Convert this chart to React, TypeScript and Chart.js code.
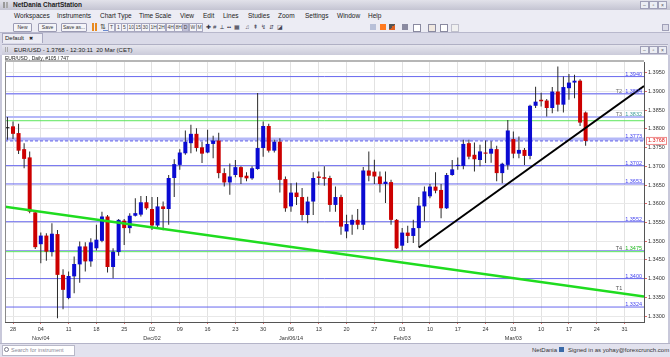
import React, { useEffect, useRef } from "react";
import { Chart, registerables } from "chart.js";

Chart.register(...registerables);

const FONT = "'Liberation Sans', Arial, sans-serif";

// ---- data: EUR/USD daily candles, index 0 = Mon 28 Oct 2013 (weekdays only) ----
const firstBarIndex = -1;
const opens = [
  1.3802, 1.3807, 1.3789, 1.3746, 1.3724, 1.3577, 1.3492, 1.3515, 1.3471, 1.3519,
  1.3410, 1.3348, 1.3406, 1.3438, 1.3486, 1.3446, 1.3481, 1.3501, 1.3566, 1.3431,
  1.3471, 1.3555, 1.3535, 1.3568, 1.3571, 1.3604, 1.3586, 1.3542, 1.3593, 1.3586,
  1.3669, 1.3704, 1.3735, 1.3762, 1.3787, 1.3751, 1.3737, 1.3760, 1.3769, 1.3682,
  1.3657, 1.3677, 1.3698, 1.3675, 1.3668, 1.3693, 1.3749, 1.3808, 1.3742, 1.3766,
  1.3666, 1.3593, 1.3630, 1.3618, 1.3570, 1.3606, 1.3673, 1.3671, 1.3669, 1.3597,
  1.3618, 1.3526, 1.3544, 1.3557, 1.3544, 1.3689, 1.3686, 1.3673, 1.3653, 1.3658,
  1.3557, 1.3488, 1.3523, 1.3514, 1.3535, 1.3593, 1.3620, 1.3646, 1.3637, 1.3588,
  1.3677, 1.3701, 1.3701, 1.3762, 1.3731, 1.3717, 1.3737, 1.3734, 1.3746, 1.3682,
  1.3704, 1.3773, 1.3734, 1.3744, 1.3728, 1.3862, 1.3878, 1.3876, 1.3856, 1.3900,
  1.3865, 1.3909, 1.3924, 1.3929, 1.3844,
];
const highs = [
  1.3832, 1.3820, 1.3814, 1.3762, 1.3740, 1.3579, 1.3523, 1.3521, 1.3548, 1.3530,
  1.3425, 1.3419, 1.3459, 1.3499, 1.3497, 1.3508, 1.3544, 1.3579, 1.3570, 1.3481,
  1.3559, 1.3559, 1.3575, 1.3615, 1.3621, 1.3621, 1.3618, 1.3618, 1.3606, 1.3677,
  1.3719, 1.3746, 1.3796, 1.3811, 1.3802, 1.3766, 1.3798, 1.3782, 1.3790, 1.3695,
  1.3708, 1.3717, 1.3700, 1.3684, 1.3700, 1.3896, 1.3820, 1.3814, 1.3771, 1.3775,
  1.3673, 1.3655, 1.3657, 1.3642, 1.3619, 1.3684, 1.3686, 1.3700, 1.3675, 1.3646,
  1.3624, 1.3571, 1.3571, 1.3586, 1.3698, 1.3740, 1.3718, 1.3686, 1.3686, 1.3664,
  1.3559, 1.3535, 1.3541, 1.3557, 1.3618, 1.3646, 1.3653, 1.3684, 1.3653, 1.3682,
  1.3717, 1.3724, 1.3771, 1.3771, 1.3764, 1.3758, 1.3769, 1.3767, 1.3755, 1.3710,
  1.3824, 1.3793, 1.3780, 1.3749, 1.3865, 1.3913, 1.3897, 1.3880, 1.3912, 1.3967,
  1.3940, 1.3947, 1.3945, 1.3933, 1.3847,
];
const lows = [
  1.3771, 1.3773, 1.3733, 1.3695, 1.3575, 1.3479, 1.3441, 1.3448, 1.3459, 1.3294,
  1.3318, 1.3345, 1.3361, 1.3389, 1.3419, 1.3432, 1.3475, 1.3497, 1.3416, 1.3401,
  1.3461, 1.3490, 1.3521, 1.3566, 1.3566, 1.3584, 1.3530, 1.3535, 1.3529, 1.3544,
  1.3618, 1.3691, 1.3731, 1.3735, 1.3740, 1.3709, 1.3735, 1.3722, 1.3668, 1.3646,
  1.3624, 1.3671, 1.3653, 1.3660, 1.3664, 1.3691, 1.3726, 1.3737, 1.3737, 1.3630,
  1.3579, 1.3579, 1.3597, 1.3555, 1.3548, 1.3570, 1.3651, 1.3648, 1.3579, 1.3579,
  1.3517, 1.3508, 1.3517, 1.3532, 1.3530, 1.3660, 1.3653, 1.3630, 1.3602, 1.3544,
  1.3479, 1.3475, 1.3495, 1.3495, 1.3484, 1.3553, 1.3615, 1.3628, 1.3561, 1.3586,
  1.3675, 1.3691, 1.3692, 1.3719, 1.3686, 1.3700, 1.3709, 1.3710, 1.3660, 1.3655,
  1.3691, 1.3722, 1.3722, 1.3704, 1.3719, 1.3856, 1.3860, 1.3833, 1.3842, 1.3847,
  1.3844, 1.3878, 1.3882, 1.3808, 1.3755,
];
const closes = [
  1.3802, 1.3787, 1.3742, 1.3720, 1.3579, 1.3484, 1.3515, 1.3472, 1.3520, 1.3410,
  1.3370, 1.3407, 1.3439, 1.3486, 1.3446, 1.3497, 1.3504, 1.3566, 1.3431, 1.3472,
  1.3557, 1.3535, 1.3568, 1.3575, 1.3604, 1.3588, 1.3542, 1.3593, 1.3586, 1.3669,
  1.3706, 1.3737, 1.3766, 1.3787, 1.3749, 1.3734, 1.3760, 1.3769, 1.3682, 1.3657,
  1.3673, 1.3698, 1.3671, 1.3668, 1.3695, 1.3749, 1.3808, 1.3742, 1.3766, 1.3664,
  1.3588, 1.3630, 1.3618, 1.3570, 1.3606, 1.3669, 1.3669, 1.3667, 1.3597, 1.3618,
  1.3539, 1.3546, 1.3557, 1.3544, 1.3689, 1.3675, 1.3673, 1.3653, 1.3659, 1.3557,
  1.3481, 1.3523, 1.3514, 1.3535, 1.3595, 1.3633, 1.3646, 1.3635, 1.3588, 1.3677,
  1.3692, 1.3704, 1.3760, 1.3726, 1.3719, 1.3740, 1.3734, 1.3747, 1.3682, 1.3707,
  1.3796, 1.3734, 1.3744, 1.3728, 1.3862, 1.3873, 1.3874, 1.3856, 1.3900, 1.3865,
  1.3912, 1.3924, 1.3929, 1.3817, 1.3768,
];

// week ticks (Mondays)
const weekTickIndex = [0, 5, 10, 15, 20, 25, 30, 35, 40, 45, 50, 55, 60, 65, 70, 75, 80, 85, 90, 95, 100, 105, 110];
const weekDayLabels = ["28", "04", "11", "18", "25", "02", "09", "16", "23", "30", "06", "13", "20", "27", "03", "10", "17", "24", "03", "10", "17", "24", "31"];
const monthLabels = ["", "Nov/04", "", "", "", "Dec/02", "", "", "", "", "Jan/06/14", "", "", "", "Feb/03", "", "", "", "Mar/03", "", "", "", ""];
const yTicks = [1.33, 1.335, 1.34, 1.345, 1.35, 1.355, 1.36, 1.365, 1.37, 1.375, 1.38, 1.385, 1.39, 1.395];

const X_MIN = -1.44;
const X_MAX = 113.5;
const Y_MIN = 1.3284;
const Y_MAX = 1.3979;

// support / resistance levels
const levelValues = [1.394, 1.3894, 1.3832, 1.3773, 1.3702, 1.3653, 1.3552, 1.3475, 1.34, 1.3324];
const levelTags = ["", "T2", "T3", "", "", "", "", "T4", "", ""];
const levelColors = ["#6868ee", "#8c8cf2", "#b4b8f8", "#b4b8f8", "#6868ee", "#6868ee", "#6868ee", "#9a9af0", "#6868ee", "#6868ee"];
const levelWidths = [1, 1.5, 2, 3, 1, 1, 1, 1, 1, 1];
const levelLabelColors = ["#4646f0", "#4646f0", "#3c9c9c", "#4646f0", "#4646f0", "#4646f0", "#4646f0", "#22b822", "#4646f0", "#4646f0"];
const greenLevels = [1.3822, 1.3472];
const currentPrice = 1.3768;

// trend lines (data space)
const greenTrendX = [-1.44, 113.5];
const greenTrendY = [1.3592, 1.3352];
const blackTrendX = [73, 113.5];
const blackTrendY = [1.3483, 1.3915];
const t1LabelX = 109;

const UP = "#0a0ad2";
const DOWN = "#cc0000";

const overlayPlugin = {
  id: "overlay",
  afterDraw(chart: any) {
    const { ctx, chartArea: a, scales } = chart;
    const y = scales.y;
    const x = scales.x;
    ctx.save();
    ctx.strokeStyle = "#b6b6b6";
    ctx.lineWidth = 2;
    ctx.beginPath();
    ctx.moveTo(a.left, a.top - 1);
    ctx.lineTo(a.right, a.top - 1);
    ctx.stroke();
    ctx.strokeStyle = "#8a8a8a";
    ctx.lineWidth = 1;
    ctx.beginPath();
    ctx.moveTo(a.left + 0.5, a.top);
    ctx.lineTo(a.left + 0.5, a.bottom);
    ctx.stroke();

    ctx.font = `5.5px ${FONT}`;
    ctx.textBaseline = "alphabetic";
    levelValues.forEach((v, k) => {
      const py = y.getPixelForValue(v);
      const txt = v.toFixed(4);
      ctx.textAlign = "right";
      ctx.fillStyle = levelLabelColors[k];
      ctx.fillText(txt, a.right - 2, py - 1);
      if (levelTags[k]) {
        const w = ctx.measureText(txt).width;
        ctx.fillStyle = k === 7 ? "#555" : "#707070";
        ctx.fillText(levelTags[k], a.right - 2 - w - 3, py - 1);
      }
    });
    // T1 label above green trend
    const frac = (t1LabelX - greenTrendX[0]) / (greenTrendX[1] - greenTrendX[0]);
    const gy = greenTrendY[0] + frac * (greenTrendY[1] - greenTrendY[0]);
    ctx.textAlign = "center";
    ctx.fillStyle = "#555";
    ctx.fillText("T1", x.getPixelForValue(t1LabelX), y.getPixelForValue(gy) - 3);

    // current price box
    const cy = y.getPixelForValue(currentPrice);
    ctx.fillStyle = "#fff";
    ctx.fillRect(a.right + 2, cy - 4, 21, 7);
    ctx.strokeStyle = "#f08a8a";
    ctx.lineWidth = 1;
    ctx.strokeRect(a.right + 2.5, cy - 3.5, 20, 7);
    ctx.fillStyle = "#e01818";
    ctx.textAlign = "left";
    ctx.textBaseline = "middle";
    ctx.fillText(currentPrice.toFixed(4), a.right + 4, cy);
    ctx.restore();
  },
};

function ChartCanvas() {
  const ref = useRef<HTMLCanvasElement>(null);
  useEffect(() => {
    const canvas = ref.current!;
    const xs = opens.map((_, k) => k + firstBarIndex);
    const wickData = xs.map((xv, k) => ({ x: xv, y: [lows[k], highs[k]] }));
    const bodyData = xs.map((xv, k) => ({ x: xv, y: [opens[k], closes[k]] }));
    const bodyColors = xs.map((_, k) => (closes[k] > opens[k] ? UP : closes[k] < opens[k] ? DOWN : "#111"));

    const levelSets: any[] = levelValues.map((v, k) => ({
      type: "line",
      data: [{ x: X_MIN, y: v }, { x: X_MAX, y: v }],
      borderColor: levelColors[k],
      borderWidth: levelWidths[k],
      pointRadius: 0,
      fill: false,
      order: 6,
    }));
    const greenSets: any[] = greenLevels.map((v) => ({
      type: "line",
      data: [{ x: X_MIN, y: v }, { x: X_MAX, y: v }],
      borderColor: "#5ce65c",
      borderWidth: 1,
      pointRadius: 0,
      fill: false,
      order: 5,
    }));

    const chart = new Chart(canvas, {
      type: "bar",
      data: {
        datasets: [
          ...levelSets,
          ...greenSets,
          {
            type: "line",
            data: [{ x: X_MIN, y: currentPrice }, { x: X_MAX, y: currentPrice }],
            borderColor: "#5656e8",
            borderWidth: 1,
            borderDash: [3, 2],
            pointRadius: 0,
            fill: false,
            order: 4,
          },
          {
            type: "bar",
            data: wickData,
            backgroundColor: "#2a2a2a",
            maxBarThickness: 1,
            grouped: false,
            order: 3,
          },
          {
            type: "bar",
            data: bodyData,
            backgroundColor: bodyColors,
            maxBarThickness: 4,
            minBarLength: 1,
            grouped: false,
            order: 2,
          },
          {
            type: "line",
            data: greenTrendX.map((xv, k) => ({ x: xv, y: greenTrendY[k] })),
            borderColor: "#1fdc1f",
            borderWidth: 2.5,
            pointRadius: 0,
            fill: false,
            order: 1,
          },
          {
            type: "line",
            data: blackTrendX.map((xv, k) => ({ x: xv, y: blackTrendY[k] })),
            borderColor: "#000",
            borderWidth: 2,
            pointRadius: 0,
            fill: false,
            order: 0,
          },
        ] as any,
      },
      options: {
        animation: false,
        responsive: false,
        devicePixelRatio: 1,
        layout: { padding: { left: 5, top: 7, right: 0, bottom: 0 } },
        plugins: { legend: { display: false }, tooltip: { enabled: false } },
        scales: {
          x: {
            type: "linear",
            min: X_MIN,
            max: X_MAX,
            offset: false,
            afterBuildTicks: (s: any) => {
              s.ticks = weekTickIndex.map((v) => ({ value: v }));
            },
            afterFit: (s: any) => {
              s.height = 22;
            },
            ticks: {
              autoSkip: false,
              maxRotation: 0,
              padding: 1,
              color: "#333",
              font: { size: 5.5, family: FONT, lineHeight: 1.6 },
              callback: (v: any) => {
                const w = weekTickIndex.indexOf(Number(v));
                if (w < 0) return "";
                return monthLabels[w] ? [weekDayLabels[w], monthLabels[w]] : weekDayLabels[w];
              },
            },
            grid: { offset: false, color: "#e2e2e2", tickColor: "#e06a6a", tickLength: 2 },
            border: { color: "#555", width: 1 },
          },
          y: {
            type: "linear",
            position: "right",
            min: Y_MIN,
            max: Y_MAX,
            afterBuildTicks: (s: any) => {
              s.ticks = yTicks.map((v) => ({ value: v }));
            },
            afterFit: (s: any) => {
              s.width = 26;
            },
            ticks: {
              padding: 1,
              color: "#333",
              font: { size: 5.5, family: FONT },
              callback: (v: any) => Number(v).toFixed(4),
            },
            grid: { color: "#e8e8e8", tickColor: "#e06a6a", tickLength: 3 },
            border: { color: "#555", width: 1 },
          },
        },
      } as any,
      plugins: [overlayPlugin],
    });
    return () => chart.destroy();
  }, []);
  return <canvas ref={ref} width={670} height={289} style={{ position: "absolute", left: 0, top: 55, width: 670, height: 289 }} />;
}

const abs = (left: number, top: number, extra: any = {}) => ({ position: "absolute" as const, left, top, ...extra });

const menuItems = ["Workspaces", "Instruments", "Chart Type", "Time Scale", "View", "Edit", "Lines", "Studies", "Zoom", "Settings", "Window", "Help"];
const menuX = [14, 57, 100, 139, 180, 203, 223, 248, 278, 305, 337, 368];
const tfLabels = ["T", "1", "5", "10", "15", "30", "1H", "2H", "4H", "8H", "D", "W", "M"];
const tfX = [108, 115, 121, 127, 134, 141, 149, 157, 166, 174, 182, 189, 196];

function WinButtons({ top }: { top: number }) {
  return (
    <>
      {["–", "▫", "×"].map((c, k) => (
        <div key={k} style={abs(640 + k * 9, top, { width: 7, height: 6, border: "1px solid #a0a0b8", background: "#eceef4", fontSize: 5, lineHeight: "6px", textAlign: "center", color: "#555" })}>{c}</div>
      ))}
    </>
  );
}

function SmallBtn({ x, w, text, active }: { x: number; w: number; text: string; active?: boolean }) {
  return (
    <div style={abs(x, 23, { width: w, height: 7, border: "1px solid #9c9cb4", background: active ? "#c8c8dc" : "#f4f4f8", fontSize: 5, lineHeight: "7px", textAlign: "center", color: "#333", borderRadius: 1 })}>{text}</div>
  );
}

export default function App() {
  return (
    <div style={{ position: "fixed", left: 0, top: 0, width: 670, height: 357, overflow: "hidden", background: "#d6d6e6", fontFamily: FONT, color: "#222" }}>
      {/* title bar */}
      <div style={abs(0, 0, { width: 670, height: 10, background: "linear-gradient(#e2e2ea,#c4c4d2)" })} />
      <div style={abs(3, 2, { width: 7, height: 6, background: "linear-gradient(90deg,#999 0 2px,transparent 2px 3px,#aaa 3px 5px,transparent 5px)" })} />
      <div style={abs(13, 0, { fontSize: 6.5, lineHeight: "10px", fontWeight: "bold", color: "#222" })}>NetDania ChartStation</div>
      <WinButtons top={1} />
      {/* menu bar */}
      <div style={abs(0, 10, { width: 670, height: 22, background: "#ececf4" })} />
      {menuItems.map((m, k) => (
        <div key={m} style={abs(menuX[k], 11, { fontSize: 6.5, lineHeight: "9px", color: "#222", whiteSpace: "nowrap" })}>{m}</div>
      ))}
      {/* toolbar */}
      <SmallBtn x={13} w={17} text="New" />
      <SmallBtn x={38} w={17} text="Save" />
      <SmallBtn x={61} w={24} text="Save as..." />
      <div style={abs(92, 23, { width: 2, height: 8, background: "#e88a20" })} />
      <div style={abs(95, 23, { width: 2, height: 8, background: "#e88a20" })} />
      <div style={abs(100, 23, { fontSize: 7, lineHeight: "8px", color: "#333" })}>⇅</div>
      <div style={abs(103, 23, { width: 5, height: 7, borderBottom: "1px solid #6a8ad0" })} />
      {tfLabels.map((t, k) => (
        <div key={k} style={abs(tfX[k], 23, { minWidth: 4, height: 7, padding: "0 0.5px", border: "1px solid #a8a8c0", background: t === "D" ? "#c0c0d8" : "#f4f4f8", fontSize: 5, lineHeight: "7px", textAlign: "center", color: "#444" })}>{t}</div>
      ))}
      {["✚", "#", "⟂", "••", "▦"].map((t, k) => (
        <div key={k} style={abs(206 + k * 7, 23, { fontSize: 6, lineHeight: "8px", color: "#334" })}>{t}</div>
      ))}
      {["♫", "⇞", "↯", "⇵", "◪"].map((t, k) => (
        <div key={"b" + k} style={abs(245 + k * 8, 23, { fontSize: 6, lineHeight: "8px", color: "#445" })}>{t}</div>
      ))}
      {[370, 380].map((x) => (
        <div key={x} style={abs(x, 24, { width: 6, height: 6, background: x === 380 ? "#ff7a20" : "#b8c0d8" })} />
      ))}
      <div style={abs(389, 24, { width: 6, height: 6, background: "linear-gradient(135deg,#555 50%,#e06020 50%)" })} />
      <div style={abs(402, 24, { width: 6, height: 6, background: "#8a8aa0" })} />
      <div style={abs(413, 24, { width: 6, height: 6, border: "1px solid #8a8aa0", background: "#fff" })} />
      <div style={abs(428, 24, { width: 6, height: 6, border: "1px solid #8a8aa0", background: "#f0e8e0" })} />
      <div style={abs(440, 24, { width: 6, height: 6, border: "1px solid #8a8aa0", background: "#fff" })} />
      <div style={abs(451, 24, { width: 6, height: 6, border: "1px solid #c0c0cc", background: "#f0f0f0" })} />
      <div style={abs(662, 24, { width: 5, height: 5, border: "1px solid #a0a0b8", background: "#dcdce8" })} />
      {/* tab bar */}
      <div style={abs(0, 32, { width: 670, height: 12, background: "#dadae8", borderTop: "1px solid #b8b8cc" })} />
      <div style={abs(2, 33, { width: 37, height: 9, background: "#ececf4", border: "1px solid #a8a8c0", borderBottom: "none", fontSize: 6, lineHeight: "9px", paddingLeft: 2, color: "#222" })}>Default <span style={{ fontSize: 5, marginLeft: 3 }}>✖</span></div>
      {/* inner window title */}
      <div style={abs(2, 44, { width: 666, height: 11, background: "linear-gradient(#e6e6ee,#c8c8d8)", borderTop: "1px solid #b0b0c4" })} />
      <div style={abs(5, 47, { width: 6, height: 5, background: "linear-gradient(90deg,#aaa 0 1px,transparent 1px 2px,#aaa 2px 3px,transparent 3px)" })} />
      <div style={abs(14, 45, { fontSize: 6, lineHeight: "10px", color: "#222", whiteSpace: "nowrap" })}>EUR/USD - 1.3768 - 12:30:11&nbsp; 20 Mar (CET)</div>
      <WinButtons top={46} />
      {/* chart panel */}
      <div style={abs(0, 55, { width: 670, height: 289, background: "#fff" })} />
      <ChartCanvas />
      <div style={abs(5, 55, { fontSize: 5, lineHeight: "6px", color: "#222", whiteSpace: "nowrap" })}>EUR/USD , Daily, #105 / 747</div>
      <div style={abs(0, 55, { width: 2, height: 289, background: "#c8c8da" })} />
      <div style={abs(668, 55, { width: 2, height: 289, background: "#c8c8da" })} />
      {/* status bar */}
      <div style={abs(0, 343, { width: 670, height: 14, background: "#e2e2ee", borderTop: "1px solid #b4b4c8" })} />
      <div style={abs(2, 345, { width: 71, height: 9, background: "#fff", border: "1px solid #b8b8c8" })} />
      <div style={abs(4, 347, { width: 3, height: 3, border: "1px solid #778", borderRadius: "50%" })} />
      <div style={abs(11, 345, { fontSize: 5.5, lineHeight: "10px", color: "#8a8a98", whiteSpace: "nowrap" })}>Search for instrument</div>
      <div style={abs(532, 345, { fontSize: 6, lineHeight: "10px", color: "#333", whiteSpace: "nowrap" })}>NetDania</div>
      <div style={abs(559, 347, { width: 5, height: 5, background: "#3a6aa8" })} />
      <div style={abs(568, 345, { fontSize: 6, lineHeight: "10px", color: "#333", whiteSpace: "nowrap" })}>Signed in as yohay@forexcrunch.com</div>
    </div>
  );
}
